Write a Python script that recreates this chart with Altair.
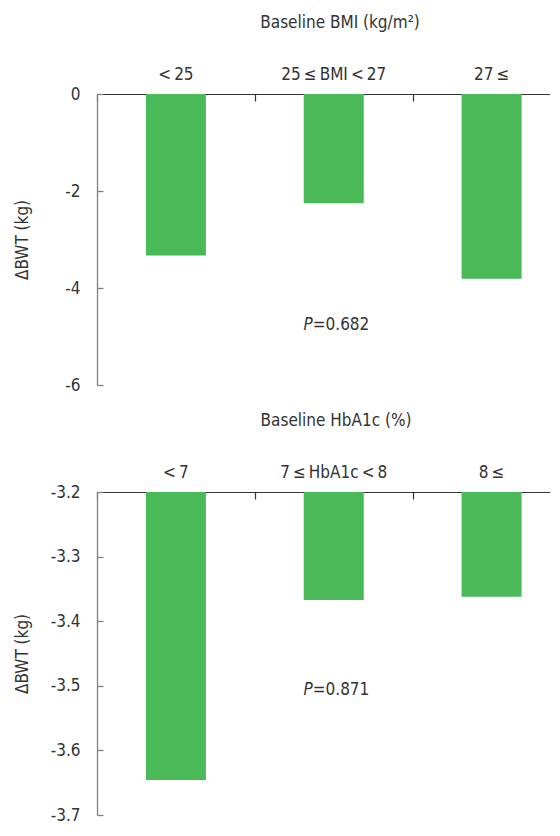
import altair as alt
import pandas as pd

# ---- data ----
bmi_groups = ["<\u200925", "25\u2009\u2264\u2009BMI\u2009<\u200927", "27\u2009\u2264"]
bmi_change = [-3.33, -2.25, -3.81]
bmi_title = "Baseline BMI (kg/m\u00b2)"
bmi_ticks = [0, -2, -4, -6]
bmi_p = "=0.682"
bmi_p_y = -4.76

hba_groups = ["<\u20097", "7\u2009\u2264\u2009HbA1c\u2009<\u20098", "8\u2009\u2264"]
hba_change = [-3.646, -3.367, -3.362]
hba_title = "Baseline HbA1c (%)"
hba_ticks = [-3.2, -3.3, -3.4, -3.5, -3.6, -3.7]
hba_p = "=0.871"
hba_p_y = -3.507

y_title = "\u0394BWT (kg)"

FONT = "DejaVu Sans Condensed, DejaVu Sans, sans-serif"
TXT = "#333333"
GRAY = "#808080"
GREEN = "#4ab957"
FS = 17
MINUS_FIX = "replace(datum.label, '\u2212', '-')"


def panel(groups, values, title, ymin, ymax, yticks, yfmt, p_label, p_y, height, title_x):
    df = pd.DataFrame({"group": groups, "change": values})
    pdf = pd.DataFrame({"group": [groups[1]], "y": [p_y], "rest": [p_label]})
    xscale = alt.Scale(domain=groups, paddingInner=0.2595, paddingOuter=0.0649, align=1)
    yscale = alt.Scale(domain=[ymin, ymax], nice=False, zero=False)

    bars = alt.Chart(df).mark_bar(color=GREEN, size=60).encode(
        x=alt.X("group:N", scale=xscale, axis=alt.Axis(
            orient="top", title=title, domain=True, domainColor=TXT, domainWidth=1.2,
            ticks=False, tickSize=0, labelPadding=20, labelBaseline="middle",
            labelAngle=0, grid=False, titleX=title_x, titlePadding=34)),
        y=alt.Y("change:Q", scale=yscale, axis=alt.Axis(
            orient="left", title=y_title, values=yticks, format=yfmt, labelExpr=MINUS_FIX,
            ticks=False, tickSize=0, labelPadding=17, domainColor=GRAY, domainWidth=1.3,
            grid=False, titleX=-75, titleBaseline="middle")),
        y2=alt.datum(ymax),
    )

    p_mark = alt.Chart(pdf).mark_text(
        text="P", fontStyle="italic", align="right", baseline="middle", dx=-21,
        font=FONT, fontSize=FS, color=TXT,
    ).encode(
        x=alt.X("group:N", scale=xscale, axis=alt.Axis(
            orient="top", title=None, labels=False, domain=False, ticks=True,
            tickSize=7, offset=-7, bandPosition=0, tickOffset=-20.5,
            tickColor=TXT, tickWidth=1.2, grid=False)),
        y=alt.Y("y:Q", scale=yscale, axis=alt.Axis(
            orient="left", title=None, labels=False, domain=False, ticks=True,
            tickSize=6, offset=-6, values=yticks, tickColor=GRAY, tickWidth=1.3, grid=False)),
    )

    rest_mark = alt.Chart(pdf).mark_text(
        align="left", baseline="middle", dx=-21, font=FONT, fontSize=FS, color=TXT,
    ).encode(
        x=alt.X("group:N", scale=xscale, axis=None),
        y=alt.Y("y:Q", scale=yscale, axis=None),
        text="rest:N",
    )

    return alt.layer(bars, p_mark, rest_mark).resolve_axis(
        x="independent", y="independent"
    ).properties(width=453, height=height)


top = panel(bmi_groups, bmi_change, bmi_title, -6, 0, bmi_ticks, "d", bmi_p, bmi_p_y, 291, 242.5)
bottom = panel(hba_groups, hba_change, hba_title, -3.7, -3.2, hba_ticks, ".1f", hba_p, hba_p_y, 323, 238.5)

chart = alt.vconcat(top, bottom, spacing=18).properties(
    padding={"left": 5, "top": 5, "right": 0, "bottom": 0}
).configure_view(stroke=None).configure_axis(
    labelFont=FONT, titleFont=FONT, labelFontSize=FS, titleFontSize=FS,
    labelColor=TXT, titleColor=TXT, titleFontWeight="normal",
)

chart.save("out.html", embed_options={"renderer": "svg", "actions": False})
